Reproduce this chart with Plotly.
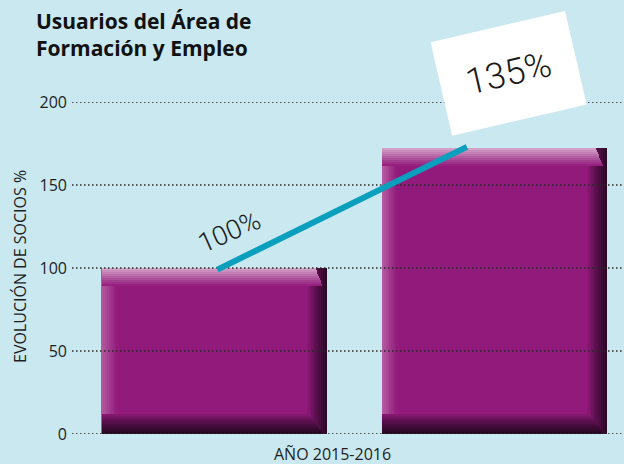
import plotly.graph_objects as go

# ---- data ----
categories = [0, 1]            # two bars
bar_values = [100, 172]
line_x = [0.01, 0.9]
line_y = [99, 173]
y_ticks = [0, 50, 100, 150, 200]
y_tick_labels = ["0", "50", "100", "150", "200"]
label_first = "100%"
label_second = "135%"
title_text = "Usuarios del Área de<br>Formación y Empleo"
y_title = "EVOLUCIÓN DE SOCIOS %"
x_title = "AÑO 2015-2016"

BG = "#c9e8f0"
BAR = "#921a7b"
TEAL = "#0b9fbe"
TXT = "#1e1e1e"

W, H = 624, 464
L, R, T, B = 72, 0, 102, 30
x_range = [-0.508, 1.46]
y_range = [0, 200]
plot_w = W - L - R
plot_h = H - T - B
px_x = (x_range[1] - x_range[0]) / plot_w
px_y = (y_range[1] - y_range[0]) / plot_h
FULL = 225
bar_w = FULL * px_x

fig = go.Figure()


def hex2rgb(h):
    h = h.lstrip("#")
    return [int(h[i:i + 2], 16) for i in (0, 2, 4)]


def mix(c1, c2, t):
    a, b = hex2rgb(c1), hex2rgb(c2)
    return "rgb(%d,%d,%d)" % tuple(round(a[i] + (b[i] - a[i]) * t) for i in range(3))


def layer(x0_px, x1_px, bottom_fn, top_fn, color):
    bases = [bottom_fn(v) for v in bar_values]
    heights = [top_fn(v) - bottom_fn(v) for v in bar_values]
    fig.add_trace(go.Bar(
        x=categories, y=heights, base=bases,
        width=(x1_px - x0_px) * px_x,
        offset=-bar_w / 2 + x0_px * px_x,
        marker=dict(color=color, line=dict(width=0)),
        hoverinfo="skip", showlegend=False))


# base bar
layer(0, FULL, lambda v: 0, lambda v: v, BAR)
# left light strip
n = 8
for i in range(n):
    a, b = i * 15 / n, (i + 1) * 15 / n
    layer(a, b, lambda v: 0, lambda v: v, mix("#b55da3", BAR, (i + 0.5) / n))
# right dark edge
n = 10
for i in range(n):
    a, b = FULL - 20 + i * 2, FULL - 20 + (i + 1) * 2
    t = ((i + 0.5) / n) ** 0.8
    layer(a, b, lambda v: 0, lambda v: v, mix(BAR, "#280823", t))
# bottom dark band
n = 10
for i in range(n):
    lo, hi = (20 - (i + 1) * 2) * px_y, (20 - i * 2) * px_y
    t = ((i + 0.5) / n) ** 0.7
    layer(0, FULL - 4 - (n - i) * 1.2, (lambda lo_: lambda v: lo_)(lo), (lambda hi_: lambda v: hi_)(hi),
          mix(BAR, "#230620", t))
# top light band
n = 9
for i in range(n):
    lo_px, hi_px = (i + 1) * 2, i * 2
    t = ((i + 0.5) / n)
    layer(0, FULL - 4 - (n - i) * 0.8,
          (lambda d: lambda v: v - d * px_y)(lo_px),
          (lambda d: lambda v: v - d * px_y)(hi_px),
          mix("#d9accf", BAR, t ** 0.9))

# dotted gridlines above bars
for t in y_ticks:
    fig.add_trace(go.Scatter(
        x=x_range, y=[t, t], mode="lines",
        line=dict(color="#2a2a2a", width=1.5, dash="1.5px,2.5px"),
        hoverinfo="skip", showlegend=False, cliponaxis=False))

# teal trend line
fig.add_trace(go.Scatter(
    x=line_x, y=line_y, mode="lines",
    line=dict(color=TEAL, width=6),
    hoverinfo="skip", showlegend=False, cliponaxis=False))

fig.update_layout(
    width=W, height=H,
    margin=dict(l=L, r=R, t=T, b=B),
    paper_bgcolor=BG, plot_bgcolor=BG,
    barmode="overlay",
    bargap=0,
    font=dict(family="Open Sans, Noto Sans, sans-serif", color=TXT),
    xaxis=dict(range=x_range, showgrid=False, zeroline=False, showticklabels=False,
               ticks="", showline=False, fixedrange=True),
    yaxis=dict(range=y_range, tickvals=y_ticks, ticktext=y_tick_labels,
               showgrid=False, zeroline=False, showline=False, ticks="",
               ticklabelstandoff=4,
               tickfont=dict(size=16, color=TXT, family="Open Sans, sans-serif")),
)

annos = [
    dict(text=title_text, xref="paper", yref="paper", x=(34 - L) / plot_w, xanchor="left",
         y=(434 - 5) / plot_h, yanchor="top", align="left", showarrow=False,
         font=dict(size=21, family="Open Sans, sans-serif", weight="bold", color="#111")),
    dict(text=y_title, xref="paper", yref="paper", x=(20 - L) / plot_w, y=(434 - 267) / plot_h,
         xanchor="center", yanchor="middle",
         textangle=-90, showarrow=False, font=dict(size=16, color=TXT)),
    dict(text=x_title, xref="paper", yref="paper", x=(332 - L) / plot_w,
         y=(434 - 454) / plot_h, xanchor="center", yanchor="middle",
         showarrow=False, font=dict(size=16, color=TXT)),
    dict(text=label_first, xref="paper", yref="paper", x=(229 - L) / plot_w,
         y=(434 - 232) / plot_h, xanchor="center", yanchor="middle",
         textangle=-24, showarrow=False,
         font=dict(size=27, color="#1a1a1a", family="Roboto, Liberation Sans, sans-serif", weight=300)),
    dict(text=label_second, xref="paper", yref="paper", x=(508 - L) / plot_w,
         y=(434 - 73) / plot_h, xanchor="center", yanchor="middle",
         textangle=-13, showarrow=False,
         bgcolor="white", width=131, height=89, borderpad=3,
         font=dict(size=36, color="#1a1a1a", family="Roboto, Liberation Sans, sans-serif", weight=300)),
]
fig.update_layout(annotations=annos)

fig.write_html("out.html", config={"displayModeBar": False},
               post_script="document.body.style.margin='0';")
